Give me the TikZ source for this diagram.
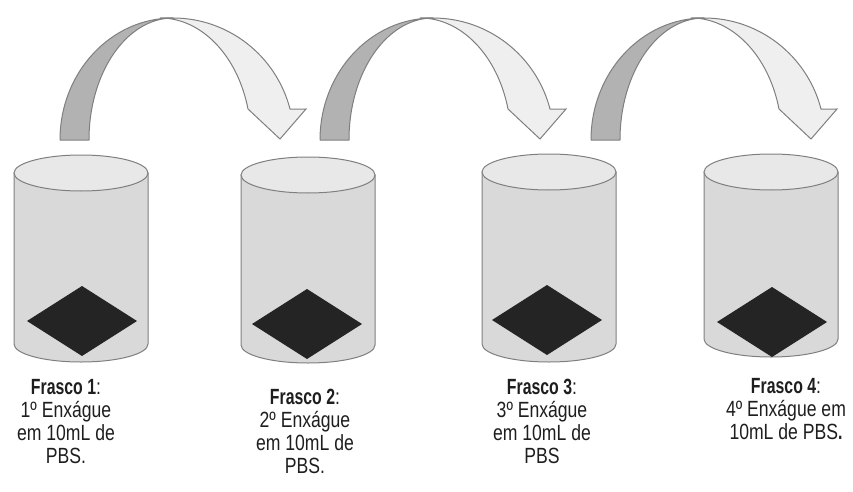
\documentclass[tikz,border=0pt]{standalone}
\usepackage{fontspec}
\setmainfont[FakeStretch=0.80, BoldFeatures={FakeStretch=0.72}]{Liberation Sans}
\definecolor{cylgray}{HTML}{D9D9D9}
\definecolor{lidgray}{HTML}{E8E8E8}
\definecolor{edgegray}{HTML}{7F7F7F}
\definecolor{gem}{HTML}{242424}
\definecolor{bandback}{HTML}{B2B2B2}
\definecolor{bandfront}{HTML}{EFEFEF}
\definecolor{inkgray}{HTML}{1E1E1E}
\begin{document}
\begin{tikzpicture}[x=1pt,y=1pt,
  body/.style={fill=cylgray, draw=edgegray, line width=1pt},
  lid/.style={fill=lidgray, draw=edgegray, line width=1pt},
  sample/.style={fill=gem},
  backband/.style={fill=bandback, draw=edgegray, line width=1pt, line join=round},
  frontband/.style={fill=bandfront, draw=edgegray, line width=1pt, line join=miter},
  lbl/.style={align=center, inner sep=0pt, text=inkgray,
              font=\fontsize{22}{23}\selectfont}]
\useasboundingbox (0,0) rectangle (853,491);

% flasks: centre x, lid centre y, base centre y, sample centre
\foreach \n/\cx/\ty/\by/\dx/\dy in {1/81/318/147/82/170,
                                   2/308/316/146/307/167,
                                   3/549/319/147/547/171,
                                   4/771/319/152/772/169}{
  \path[body] ({\cx-67},\ty) -- ({\cx-67},\by)
      arc[start angle=180, end angle=360, x radius=67, y radius=18]
      -- ({\cx+67},\ty) -- cycle;
  \path[lid] (\cx,\ty) ellipse [x radius=67, y radius=18];
  \coordinate (c\n) at (\cx,\ty);
  \path[sample] (\dx,{\dy+35}) -- ({\dx+55},\dy) -- (\dx,{\dy-35})
      -- ({\dx-55},\dy) -- cycle;
}

% curved transfer arrows between neighbouring flasks
\foreach \ax in {173,433,704}{
  \coordinate (apex\ax) at (\ax,473);
  \path[frontband] (apex\ax)
      arc[start angle=90, end angle=14.7, x radius=121, y radius=122]
      -- ({\ax+133},382) -- ({\ax+107},352) -- ({\ax+75},382)
      arc[start angle=14.7, end angle=90, x radius=91, y radius=122]
      -- cycle;
  \path[backband] ({\ax-113},351)
      arc[start angle=180, end angle=90, x radius=113, y radius=122]
      arc[start angle=90, end angle=180, x radius=84, y radius=122]
      -- cycle;
}

% captions
\node[lbl, anchor=north] (t1) at (66,112)
  {\textbf{Frasco 1}:\\1º Enxágue\\em 10mL de\\PBS.};
\node[lbl, anchor=north] (t2) at (305,102)
  {\textbf{Frasco 2}:\\2º Enxágue\\em 10mL de\\PBS.};
\node[lbl, anchor=north] (t3) at (542,112)
  {\textbf{Frasco 3}:\\3º Enxágue\\em 10mL de\\PBS};
\node[lbl, anchor=north] (t4) at (786,113)
  {\textbf{Frasco 4}:\\4º Enxágue em\\10mL de PBS\textbf{.}};
\end{tikzpicture}
\end{document}
